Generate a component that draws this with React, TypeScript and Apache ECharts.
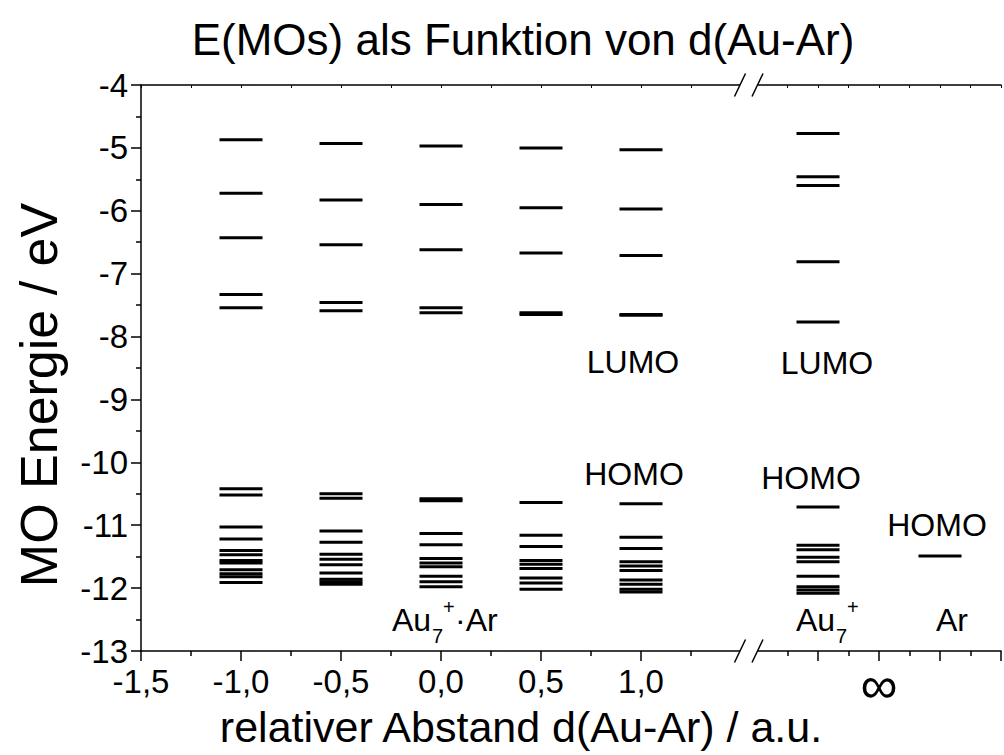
import React, { useEffect, useRef } from "react";
import * as echarts from "echarts";

const FONT = '"Liberation Sans", Arial, Helvetica, sans-serif';

// Relative Au–Ar distances (a.u.) of the five Au7+·Ar geometries
const distances = [-1.0, -0.5, 0.0, 0.5, 1.0];

// Orbital energies (eV) at each distance, top to bottom
const levelsAtM10 = [-4.87, -5.72, -6.43, -7.33, -7.54, -10.42, -10.52, -11.03, -11.22, -11.4, -11.47, -11.56, -11.6, -11.71, -11.77, -11.82, -11.91];
const levelsAtM05 = [-4.93, -5.83, -6.54, -7.46, -7.59, -10.5, -10.57, -11.09, -11.27, -11.46, -11.54, -11.63, -11.76, -11.86, -11.9, -11.94];
const levelsAt00 = [-4.97, -5.9, -6.62, -7.54, -7.62, -10.58, -10.61, -11.13, -11.31, -11.53, -11.6, -11.66, -11.81, -11.9, -11.98];
const levelsAt05 = [-5.0, -5.95, -6.67, -7.62, -7.65, -10.64, -11.16, -11.34, -11.56, -11.62, -11.69, -11.84, -11.92, -12.02];
const levelsAt10 = [-5.03, -5.97, -6.71, -7.65, -7.66, -10.66, -11.19, -11.37, -11.58, -11.65, -11.72, -11.87, -11.94, -12.02, -12.06];
const complexLevels = [levelsAtM10, levelsAtM05, levelsAt00, levelsAt05, levelsAt10];

// Separated fragments, placed on the broken-off part of the axis (2 = ∞)
const fragmentPos = { au7: 1, ar: 3 };
const levelsAu7 = [-4.77, -5.46, -5.6, -6.81, -7.77, -10.71, -11.32, -11.39, -11.51, -11.58, -11.81, -11.98, -12.03, -12.08];
const levelsAr = [-11.49];

// Axis ticks
const yMin = -13;
const yMax = -4;
const xTicksLeft = { min: -1.5, max: 1.5, interval: 0.5 };
const xTicksRight = { min: 0, max: 4, interval: 1 };

const complexData: number[][] = [];
distances.forEach((d, i) => complexLevels[i].forEach((e) => complexData.push([d, e])));
const fragmentData: number[][] = [
  ...levelsAu7.map((e) => [fragmentPos.au7, e]),
  ...levelsAr.map((e) => [fragmentPos.ar, e]),
];

const black = "#000";
const axisLine = { show: true, onZero: false, lineStyle: { color: black, width: 1.5 } };
const outTicks = { show: true, inside: false, length: 10, lineStyle: { color: black, width: 1.5 } };
const minorOut = { show: true, splitNumber: 2, length: 5, lineStyle: { color: black, width: 1.5 } };
const topTicks = { show: true, inside: true, length: 3, lineStyle: { color: black, width: 1 } };
const tickFont = { fontFamily: FONT, fontSize: 33, color: black, lineHeight: 28 };

const levelSeries = (data: number[][], xAxisIndex: number, yAxisIndex: number) => ({
  type: "scatter",
  xAxisIndex,
  yAxisIndex,
  symbol: "rect",
  symbolSize: [43, 3],
  itemStyle: { color: black, opacity: 1 },
  silent: true,
  data,
});

const txt = (x: number, y: number, text: string, fontSize = 32, align = "center", rotation = 0) => ({
  type: "text",
  x,
  y,
  rotation,
  z: 110,
  silent: true,
  style: {
    text,
    fontFamily: FONT,
    fontSize,
    lineHeight: Math.round(fontSize * 0.85),
    fill: black,
    align,
    verticalAlign: "middle",
  },
});

const slash = (cx: number, cy: number) => ({
  type: "line",
  z: 111,
  silent: true,
  shape: { x1: cx - 5.5, y1: cy + 11.5, x2: cx + 5.5, y2: cy - 11.5 },
  style: { stroke: black, lineWidth: 1.5 },
});

export default function App() {
  const ref = useRef<HTMLDivElement>(null);

  useEffect(() => {
    if (!ref.current) return;
    const chart = echarts.init(ref.current, undefined, { renderer: "svg" });
    const top = 85;
    const bottom = 651;
    chart.setOption({
      animation: false,
      backgroundColor: "#fff",
      grid: [
        { left: 141, top, width: 600, height: bottom - top },
        { left: 757, top, width: 253.3, height: bottom - top },
      ],
      xAxis: [
        {
          type: "value",
          gridIndex: 0,
          position: "bottom",
          ...xTicksLeft,
          axisLine,
          axisTick: outTicks,
          minorTick: minorOut,
          splitLine: { show: false },
          axisLabel: {
            ...tickFont,
            margin: 16,
            formatter: (v: number) => (v > 1.25 ? "" : v.toFixed(1).replace(".", ",")),
          },
        },
        {
          type: "value",
          gridIndex: 0,
          position: "top",
          min: xTicksLeft.min,
          max: xTicksLeft.max,
          interval: 0.25,
          axisLine,
          axisTick: topTicks,
          splitLine: { show: false },
          axisLabel: { show: false },
        },
        {
          type: "value",
          gridIndex: 1,
          position: "bottom",
          ...xTicksRight,
          axisLine,
          axisTick: outTicks,
          minorTick: minorOut,
          splitLine: { show: false },
          axisLabel: {
            fontFamily: FONT,
            fontSize: 52,
            lineHeight: 36,
            color: black,
            margin: 16,
            formatter: (v: number) => (v === 2 ? "∞" : ""),
          },
        },
        {
          type: "value",
          gridIndex: 1,
          position: "top",
          min: xTicksRight.min,
          max: xTicksRight.max,
          interval: 0.5,
          axisLine,
          axisTick: topTicks,
          splitLine: { show: false },
          axisLabel: { show: false },
        },
      ],
      yAxis: [
        {
          type: "value",
          gridIndex: 0,
          min: yMin,
          max: yMax,
          interval: 1,
          axisLine,
          axisTick: outTicks,
          minorTick: minorOut,
          splitLine: { show: false },
          axisLabel: { ...tickFont, margin: 13 },
        },
        {
          type: "value",
          gridIndex: 1,
          min: yMin,
          max: yMax,
          interval: 1,
          show: false,
          splitLine: { show: false },
        },
      ],
      series: [levelSeries(complexData, 0, 0), levelSeries(fragmentData, 2, 1)],
      graphic: [
        // axis break
        { type: "rect", z: 105, silent: true, shape: { x: 740, y: 70, width: 18, height: 30 }, style: { fill: "#fff" } },
        { type: "rect", z: 105, silent: true, shape: { x: 740, y: 638, width: 18, height: 30 }, style: { fill: "#fff" } },
        slash(740, top),
        slash(757.5, top),
        slash(740, bottom),
        slash(757.5, bottom),
        // titles
        txt(523, 39, "E(MOs) als Funktion von d(Au-Ar)", 44),
        txt(521, 727, "relativer Abstand d(Au-Ar) / a.u.", 43),
        txt(39, 395, "MO Energie / eV", 52, "center", Math.PI / 2),
        // annotations
        txt(633, 362, "LUMO"),
        txt(634, 474, "HOMO"),
        txt(827, 363, "LUMO"),
        txt(811, 478, "HOMO"),
        txt(937, 525, "HOMO"),
        txt(952, 620, "Ar"),
        txt(392, 620, "Au", 32, "left"),
        txt(432, 636, "7", 20, "left"),
        txt(443, 607, "+", 20, "left"),
        txt(455, 620, "·Ar", 32, "left"),
        txt(796, 620, "Au", 32, "left"),
        txt(836, 636, "7", 20, "left"),
        txt(847, 607, "+", 20, "left"),
      ],
    });
    return () => chart.dispose();
  }, []);

  return (
    <div
      ref={ref}
      style={{ position: "fixed", left: 0, top: 0, width: 1004, height: 755, background: "#fff" }}
    />
  );
}
